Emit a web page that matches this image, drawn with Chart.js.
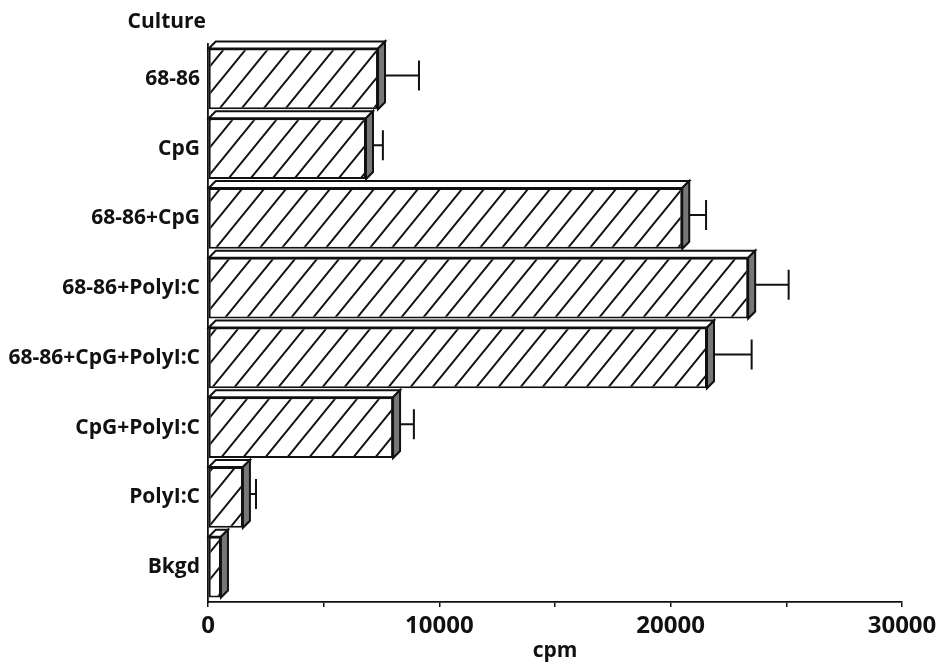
<!DOCTYPE html>
<html>
<head>
<meta charset="utf-8">
<script src="https://cdn.jsdelivr.net/npm/chart.js@4.4.1/dist/chart.umd.min.js"></script>
<style>
  html, body { margin: 0; padding: 0; background: #fff; }
  #wrap { width: 945px; height: 667px; }
</style>
</head>
<body>
<div id="wrap"><canvas id="cultureChart"></canvas></div>
<script>
// Values (cpm)
const cultures = ['68-86', 'CpG', '68-86+CpG', '68-86+PolyI:C', '68-86+CpG+PolyI:C', 'CpG+PolyI:C', 'PolyI:C', 'Bkgd'];
const cpmMeans = [7350, 6830, 20500, 23350, 21570, 8000, 1510, 560];
const cpmErrors = [1770, 730, 1030, 1750, 1930, 900, 565, 100];
const xTickValues = [0, 10000, 20000, 30000];

const FONT = '"Open Sans", "DejaVu Sans", sans-serif';
const DEPTH = 7; // fake 3D offset of the bars

// diagonal "/" hatch used for the bar fronts
function makeHatch() {
    const w = 22, h = 27;
    const c = document.createElement('canvas');
    c.width = w; c.height = h;
    const g = c.getContext('2d');
    g.fillStyle = '#fff';
    g.fillRect(0, 0, w, h);
    g.strokeStyle = '#111';
    g.lineWidth = 2;
    g.beginPath();
    g.moveTo(-w, 2 * h); g.lineTo(2 * w, -h);
    g.moveTo(-2 * w, 2 * h); g.lineTo(w, -h);
    g.moveTo(0, 2 * h); g.lineTo(3 * w, -h);
    g.stroke();
    return g.createPattern(c, 'repeat');
}

// top face, side face and error whiskers for each bar
const bar3d = {
    id: 'bar3d',
    afterDatasetsDraw(chart) {
        const ctx = chart.ctx;
        const xs = chart.scales.x;
        const meta = chart.getDatasetMeta(0);
        ctx.save();
        ctx.lineJoin = 'miter';
        meta.data.forEach((bar, i) => {
            const p = bar.getProps(['x', 'y', 'base', 'height'], true);
            const x0 = p.base, x1 = p.x;
            const top = p.y - p.height / 2, bot = p.y + p.height / 2;
            ctx.lineWidth = 2;
            ctx.strokeStyle = '#111';
            // top face
            ctx.beginPath();
            ctx.moveTo(x0, top);
            ctx.lineTo(x0 + DEPTH, top - DEPTH);
            ctx.lineTo(x1 + DEPTH, top - DEPTH);
            ctx.lineTo(x1, top);
            ctx.closePath();
            ctx.fillStyle = '#fff';
            ctx.fill();
            ctx.stroke();
            // side face
            ctx.beginPath();
            ctx.moveTo(x1, top);
            ctx.lineTo(x1 + DEPTH, top - DEPTH);
            ctx.lineTo(x1 + DEPTH, bot - DEPTH);
            ctx.lineTo(x1, bot);
            ctx.closePath();
            ctx.fillStyle = '#777';
            ctx.fill();
            ctx.stroke();
            // error whisker
            const ex0 = x1 + DEPTH;
            const ex1 = xs.getPixelForValue(cpmMeans[i] + cpmErrors[i]);
            if (ex1 > ex0) {
                const ey = p.y - DEPTH / 2;
                ctx.lineWidth = 2;
                ctx.beginPath();
                ctx.moveTo(ex0, ey); ctx.lineTo(ex1, ey);
                ctx.moveTo(ex1, ey - 15); ctx.lineTo(ex1, ey + 15);
                ctx.stroke();
            }
        });
        // "Culture" heading over the category labels
        ctx.fillStyle = '#111';
        ctx.font = 'bold 21px ' + FONT;
        ctx.textAlign = 'right';
        ctx.textBaseline = 'middle';
        ctx.fillText('Culture', chart.chartArea.left - 2, 22);
        ctx.restore();
    }
};

new Chart(document.getElementById('cultureChart'), {
    type: 'bar',
    data: {
        labels: cultures,
        datasets: [{
            data: cpmMeans,
            backgroundColor: makeHatch(),
            borderColor: '#111',
            borderWidth: 2,
            borderSkipped: false,
            categoryPercentage: 1,
            barPercentage: 0.87
        }]
    },
    options: {
        indexAxis: 'y',
        responsive: true,
        maintainAspectRatio: false,
        animation: false,
        layout: { padding: { top: 44, right: 43, left: 0, bottom: 0 } },
        plugins: { legend: { display: false }, tooltip: { enabled: false } },
        scales: {
            y: {
                grid: { display: false },
                border: { color: '#111', width: 1.8 },
                ticks: { color: '#111', padding: 0, font: { family: FONT, size: 21, weight: 'bold' } },
                afterFit: s => { s.width = 208; }
            },
            x: {
                min: 0,
                max: 30000,
                ticks: {
                    stepSize: 5000,
                    autoSkip: false,
                    maxRotation: 0,
                    padding: 5,
                    color: '#111',
                    font: { family: FONT, size: 24, weight: 'bold' },
                    callback: v => xTickValues.includes(v) ? String(v) : ''
                },
                grid: { drawOnChartArea: false, tickLength: 5, color: '#111', lineWidth: 1.5 },
                border: { color: '#111', width: 1.8 },
                title: {
                    display: true,
                    text: 'cpm',
                    color: '#111',
                    font: { family: FONT, size: 21, weight: 'bold' },
                    padding: { top: 0, bottom: 3 }
                },
                afterFit: s => { s.height = 65; }
            }
        }
    },
    plugins: [bar3d]
});
</script>
</body>
</html>
